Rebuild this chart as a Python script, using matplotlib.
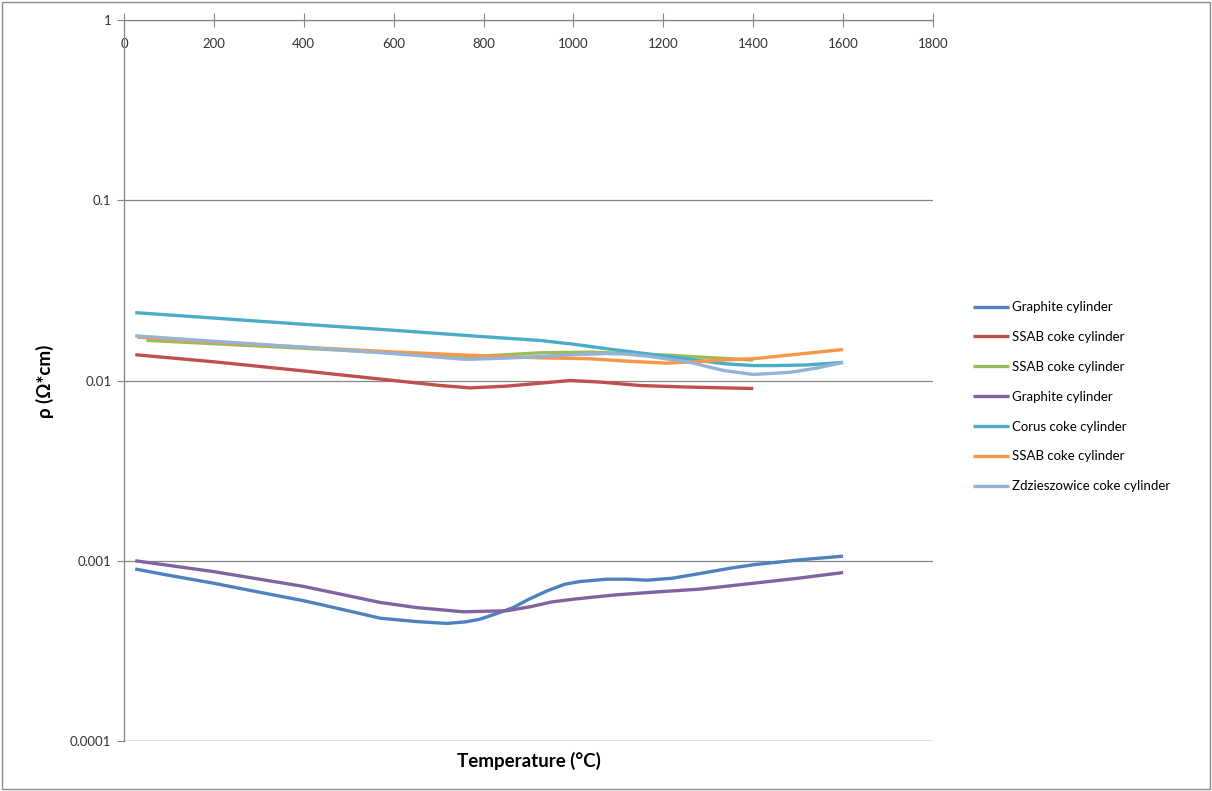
import matplotlib
matplotlib.use('Agg')
import matplotlib.pyplot as plt
from matplotlib.patches import Rectangle

# values (log axis)
labels = ['Graphite cylinder', 'SSAB coke cylinder', 'SSAB coke cylinder',
          'Graphite cylinder', 'Corus coke cylinder', 'SSAB coke cylinder',
          'Zdzieszowice coke cylinder']

t_graphite1 = [25, 100, 200, 300, 400, 500, 570, 650, 718, 760, 792, 830, 866, 900, 941,
               980, 1015, 1074, 1120, 1163, 1220, 1282, 1350, 1400, 1500, 1600]
rho_graphite1 = [0.00090, 0.00083, 0.00075, 0.00067, 0.00060, 0.000527, 0.00048, 0.00046,
                 0.000449, 0.000458, 0.000474, 0.00051, 0.00055, 0.00061, 0.00068, 0.00074,
                 0.000767, 0.00079, 0.00079, 0.00078, 0.00080, 0.00085, 0.00091, 0.00095,
                 0.00101, 0.00106]

t_ssab1 = [25, 200, 400, 600, 700, 770, 850, 926, 992, 1060, 1148, 1250, 1400]
rho_ssab1 = [0.0139, 0.0127, 0.0113, 0.0100, 0.0094, 0.0091, 0.0093, 0.00966, 0.0100,
             0.0098, 0.00938, 0.0092, 0.00903]

t_ssab2 = [50, 200, 400, 600, 755, 850, 926, 1037, 1130, 1222, 1300, 1400]
rho_ssab2 = [0.0167, 0.0160, 0.0151, 0.0142, 0.01348, 0.0139, 0.01425, 0.01436, 0.0141,
             0.01377, 0.0134, 0.0130]

t_graphite2 = [25, 200, 400, 570, 650, 755, 852, 903, 950, 1000, 1089, 1180, 1282, 1400,
               1500, 1600]
rho_graphite2 = [0.00100, 0.00087, 0.00072, 0.000587, 0.00055, 0.000521, 0.000528, 0.000555,
                 0.00059, 0.000612, 0.000645, 0.00067, 0.000696, 0.00075, 0.00080, 0.00086]

t_corus = [25, 200, 400, 600, 800, 926, 1000, 1074, 1150, 1222, 1280, 1334, 1400, 1445,
           1520, 1600]
rho_corus = [0.0238, 0.0222, 0.0205, 0.0190, 0.0175, 0.01668, 0.0159, 0.0150, 0.0142,
             0.01349, 0.0129, 0.0124, 0.0121, 0.0121, 0.0122, 0.0126]

t_ssab3 = [30, 200, 400, 600, 800, 926, 1037, 1120, 1207, 1270, 1334, 1400, 1500, 1600]
rho_ssab3 = [0.0174, 0.0163, 0.0153, 0.0144, 0.0137, 0.01336, 0.0132, 0.0128, 0.01248,
             0.0127, 0.0130, 0.0132, 0.0140, 0.01486]

t_zdz = [25, 200, 400, 600, 760, 850, 926, 1000, 1074, 1120, 1170, 1215, 1259, 1300, 1334,
         1400, 1482, 1540, 1600]
rho_zdz = [0.0177, 0.0165, 0.0153, 0.0141, 0.0131, 0.0133, 0.0136, 0.0139, 0.0141, 0.0140,
           0.0136, 0.0131, 0.01264, 0.0119, 0.01137, 0.0108, 0.0111, 0.0117, 0.0126]

xs = [t_graphite1, t_ssab1, t_ssab2, t_graphite2, t_corus, t_ssab3, t_zdz]
ys = [rho_graphite1, rho_ssab1, rho_ssab2, rho_graphite2, rho_corus, rho_ssab3, rho_zdz]
colors = ['#4F81BD', '#C0504D', '#9BBB59', '#8064A2', '#4BACC6', '#F79646', '#95B3D7']

x_ticks = [0, 200, 400, 600, 800, 1000, 1200, 1400, 1600, 1800]
y_ticks = [0.0001, 0.001, 0.01, 0.1, 1]
y_tick_labels = ['0.0001', '0.001', '0.01', '0.1', '1']

plt.rcParams['font.family'] = ['Lato', 'DejaVu Sans']

fig = plt.figure(figsize=(12.12, 7.91), dpi=100)
ax = fig.add_axes([124/1212, 1 - 741/791, (933 - 124)/1212, (741 - 20)/791])

for x, y, c, lab in zip(xs, ys, colors, labels):
    ax.plot(x, y, color=c, lw=2.4, label=lab, solid_capstyle='butt', solid_joinstyle='round')

ax.set_yscale('log')
ax.set_ylim(0.0001, 1)
ax.set_xlim(0, 1800)
ax.set_yticks(y_ticks)
ax.set_yticklabels(y_tick_labels)
ax.minorticks_off()
ax.set_xticks(x_ticks)

grid_c = '#868686'
ax.grid(True, axis='y', color=grid_c, lw=0.9)
ax.set_axisbelow(True)
for s in ['right', 'bottom']:
    ax.spines[s].set_visible(False)
for s in ['left', 'top']:
    ax.spines[s].set_color(grid_c)
    ax.spines[s].set_linewidth(0.9)
ax.axhline(0.0001, color=grid_c, lw=0.9, zorder=0)

ax.tick_params(axis='y', direction='out', length=5, color=grid_c, labelsize=9.5,
               labelcolor='#333333', pad=4)
ax.tick_params(axis='x', top=True, bottom=False, labeltop=True, labelbottom=False,
               direction='inout', length=10, color=grid_c, labelsize=9.5,
               labelcolor='#333333', pad=-18)
for lbl in ax.get_xticklabels():
    lbl.set_verticalalignment('top')

ax.set_xlabel('Temperature (°C)', fontsize=13.5, fontweight='bold', labelpad=8)
ax.xaxis.set_label_position('bottom')
fig.text(45/1212, 1 - 381/791, 'ρ (Ω*cm)', rotation=90, fontsize=13.5,
         fontweight='bold', ha='center', va='center')

ax.legend(loc='upper left', bbox_to_anchor=(968/1212, 1 - 296/791),
          bbox_transform=fig.transFigure, frameon=False, fontsize=9.5,
          handlelength=2.7, handletextpad=0.2, labelspacing=1.35, borderaxespad=0)

fig.patches.append(Rectangle((0.002, 0.002), 0.996, 0.996, transform=fig.transFigure,
                             fill=False, edgecolor='#8c8c8c', lw=1))

fig.savefig('out.png', dpi=100)
